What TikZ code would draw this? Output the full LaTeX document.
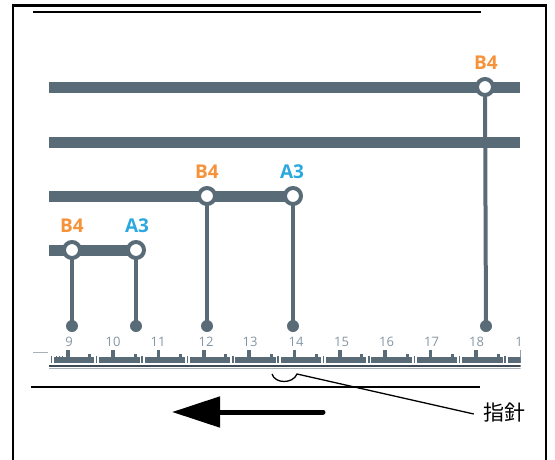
\documentclass[tikz,border=0pt]{standalone}
\usepackage{fontspec}
\setmainfont{Open Sans}
\newfontfamily\cjk{Noto Sans CJK JP}
\usetikzlibrary{arrows.meta,backgrounds}
\definecolor{railgray}{HTML}{5A6B78}
\definecolor{numgray}{HTML}{8596A2}
\definecolor{orB}{HTML}{F5923A}
\definecolor{blA}{HTML}{2AA8E0}
\definecolor{lightrule}{HTML}{A9B1B7}
\tikzset{
  ring/.style={circle,draw=railgray,line width=4pt,fill=white,minimum size=16pt,inner sep=0pt},
  dotnode/.style={circle,fill=railgray,minimum size=12pt,inner sep=0pt},
  bar/.style={draw=railgray,line width=11pt},
  stem/.style={draw=railgray,line width=4pt},
  labB/.style={text=orB,font=\fontsize{19}{19}\selectfont\bfseries,inner sep=0pt},
  labA/.style={text=blA,font=\fontsize{19}{19}\selectfont\bfseries,inner sep=0pt},
  num/.style={text=numgray,font=\fontsize{13}{13}\selectfont,inner sep=0pt},
  blackline/.style={draw=black,line width=2pt},
}
\begin{document}
\begin{tikzpicture}[x=1pt,y=-1pt]
\useasboundingbox (0,0) rectangle (555,459);
% outer frame
\draw[line width=2.6pt] (13,462) -- (13,5.5) -- (546,5.5) -- (546,462);
% top and bottom rules
\draw[blackline] (33,12) -- (481,12);
\draw[blackline,line width=1.6pt] (31,387) -- (480,387);

% rings
\node[ring] (c1) at (72,250) {};
\node[ring] (c2) at (136,250) {};
\node[ring] (c3) at (207,196) {};
\node[ring] (c4) at (293,196) {};
\node[ring] (c5) at (485,87) {};
% dots
\node[dotnode] (d1) at (72,326) {};
\node[dotnode] (d2) at (136,326) {};
\node[dotnode] (d3) at (207,326) {};
\node[dotnode] (d4) at (293,326) {};
\node[dotnode] (d5) at (486,326) {};
% bar ends
\coordinate (l1) at (49,87);  \coordinate (r1) at (520,87);
\coordinate (l2) at (49,142); \coordinate (r2) at (520,142);
\coordinate (l3) at (49,196);
\coordinate (l4) at (49,250);

\begin{scope}[on background layer]
  \draw[bar] (l1) -- (c5.center) -- (r1);
  \draw[bar] (l2) -- (r2);
  \draw[bar] (l3) -- (c3.center) -- (c4.center);
  \draw[bar] (l4) -- (c1.center) -- (c2.center);
  \draw[stem] (c1.center) -- (d1.center);
  \draw[stem] (c2.center) -- (d2.center);
  \draw[stem] (c3.center) -- (d3.center);
  \draw[stem] (c4.center) -- (d4.center);
  \draw[stem] (c5.center) -- (d5.center);
\end{scope}

% labels
\node[labB] (t1) at (72,226) {B4};
\node[labA] (t2) at (137,226) {A3};
\node[labB] (t3) at (207,172) {B4};
\node[labA] (t4) at (292,172) {A3};
\node[labB] (t5) at (486,63) {B4};

% ruler numbers
\foreach \n/\xx in {9/69,10/113,11/158,12/206,13/250,14/296,15/341.5,16/386.5,17/431.5,18/476.5}
  \node[num] at (\xx,342) {\n};
\node[num] at (519,342) {1};

% ruler ticks
\begin{scope}
  \clip (49,340) rectangle (520.5,372);
  \foreach \i in {-1,...,10} {
    \pgfmathsetmacro\xa{67.7+45.37*\i}
    \pgfmathsetmacro\ga{\xa-16.4}
    \pgfmathsetmacro\gb{\xa+29}
    \fill[railgray] (\ga+2.5,357) rectangle (\gb-2.5,362.5);
    \fill[railgray] (\xa-1.8,349.5) rectangle (\xa+1.8,362.5);
    \fill[railgray] (\xa+20.5,354) rectangle (\xa+23.5,362.5);
    \fill[railgray] (\gb-0.7,355.5) rectangle (\gb+0.7,362.5);
  }
  \fill[railgray] (56,355.5) rectangle (57.4,362.5);
  \fill[railgray] (59,355.5) rectangle (60.4,362.5);
  \fill[railgray] (62,355.5) rectangle (63.4,362.5);
  \draw[draw=railgray!70!black,line width=2.2pt] (49,366.3) -- (521,366.3);
  \draw[draw=lightrule,line width=1.4pt] (49,368.6) -- (521,368.6);
\end{scope}
\draw[draw=lightrule,line width=0.8pt] (33,352.5) -- (48,352.5);

% pointer
\coordinate (p1) at (272,374);
\coordinate (p2) at (297,374);
\node[font=\cjk\fontsize{21}{21}\selectfont,inner sep=0pt] (ptr) at (504,413) {指針};
\draw[line width=1.3pt] (p1) .. controls (275,384) and (293,384) .. (p2) -- ([xshift=-9pt,yshift=-1pt]ptr.west);

% direction arrow
\coordinate (as) at (323,412);
\coordinate (ae) at (172,412);
\draw[line width=5pt,line cap=round,-{Triangle[length=48pt,width=30pt]}] (as) -- (ae);
\end{tikzpicture}
\end{document}
